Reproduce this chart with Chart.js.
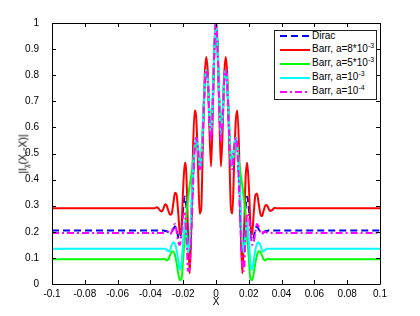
<!DOCTYPE html>
<html>
<head>
<meta charset="utf-8">
<script src="https://cdn.jsdelivr.net/npm/chart.js@4.4.1/dist/chart.umd.min.js"></script>
<style>
  html, body { margin: 0; padding: 0; background: #fff; }
  #wrap { position: relative; width: 420px; height: 316px; font-family: "Liberation Sans", Arial, sans-serif; color: #000; }
  #chart { display: block; }
  #ylabel { position: absolute; left: 23px; top: 154px; transform: translate(-50%, -50%) rotate(-90deg); font-size: 10.5px; white-space: nowrap; }
  #ylabel sub { font-size: 7px; vertical-align: -2px; }
  #xlabel { position: absolute; left: 216px; top: 301px; transform: translate(-50%, -50%); font-size: 10px; }
  #legend { position: absolute; left: 274px; top: 30px; width: 103px; height: 70px; border: 1px solid #222; background: #fff; box-sizing: border-box; font-size: 10px; }
  #legend svg { position: absolute; left: 5px; width: 30px; height: 6px; }
  #legend span { position: absolute; left: 37px; white-space: nowrap; line-height: 10px; }
  #legend sup { font-size: 7px; vertical-align: 4px; line-height: 0; }
</style>
</head>
<body>
<div id="wrap">
  <canvas id="chart" width="420" height="316"></canvas>
  <div id="ylabel">|I<sub>χ</sub>(X,-X)|</div>
  <div id="xlabel">X</div>
  <div id="legend">
    <svg style="top:2px"><line x1="0" y1="3" x2="30" y2="3" stroke="#0000ff" stroke-width="2" stroke-dasharray="7,4"/></svg>
    <span style="top:0px">Dirac</span>
    <svg style="top:16px"><line x1="0" y1="3" x2="30" y2="3" stroke="#ff0000" stroke-width="2"/></svg>
    <span style="top:13px">Barr, a=8*10<sup>-3</sup></span>
    <svg style="top:30px"><line x1="0" y1="3" x2="30" y2="3" stroke="#00ff00" stroke-width="2"/></svg>
    <span style="top:27px">Barr, a=5*10<sup>-3</sup></span>
    <svg style="top:44px"><line x1="0" y1="3" x2="30" y2="3" stroke="#00ffff" stroke-width="2"/></svg>
    <span style="top:41px">Barr, a=10<sup>-3</sup></span>
    <svg style="top:58px"><line x1="0" y1="3" x2="30" y2="3" stroke="#ff00ff" stroke-width="2" stroke-dasharray="7,3,2,3"/></svg>
    <span style="top:55px">Barr, a=10<sup>-4</sup></span>
  </div>
</div>
<script>
// x positions (X) shared by all curves
const xs = [-0.1,
  -0.040, -0.039, -0.038, -0.037, -0.036, -0.035, -0.034, -0.033, -0.032, -0.031,
  -0.030, -0.029, -0.028, -0.027, -0.026, -0.025, -0.024, -0.023, -0.022, -0.021,
  -0.020, -0.019, -0.018, -0.017, -0.016, -0.015, -0.014, -0.013, -0.012, -0.011,
  -0.010, -0.009, -0.008, -0.007, -0.006, -0.005, -0.004, -0.003, -0.002, -0.001,
  0.000,
  0.001, 0.002, 0.003, 0.004, 0.005, 0.006, 0.007, 0.008, 0.009, 0.010,
  0.011, 0.012, 0.013, 0.014, 0.015, 0.016, 0.017, 0.018, 0.019, 0.020,
  0.021, 0.022, 0.023, 0.024, 0.025, 0.026, 0.027, 0.028, 0.029, 0.030,
  0.031, 0.032, 0.033, 0.034, 0.035, 0.036, 0.037, 0.038, 0.039, 0.040,
  0.1];

const dirac = [0.205,
  0.205, 0.205, 0.205, 0.205, 0.205, 0.205, 0.205, 0.205, 0.205, 0.203,
  0.202, 0.198, 0.195, 0.20, 0.21, 0.22, 0.21, 0.18, 0.175, 0.22,
  0.29, 0.335, 0.29, 0.16, 0.12, 0.24, 0.40, 0.52, 0.56, 0.52,
  0.45, 0.46, 0.58, 0.74, 0.82, 0.78, 0.64, 0.56, 0.69, 0.90,
  1.00,
  0.90, 0.69, 0.56, 0.64, 0.78, 0.82, 0.74, 0.58, 0.46, 0.45,
  0.52, 0.56, 0.52, 0.40, 0.24, 0.12, 0.16, 0.29, 0.335, 0.29,
  0.22, 0.175, 0.18, 0.21, 0.22, 0.21, 0.20, 0.195, 0.198, 0.202,
  0.203, 0.205, 0.205, 0.205, 0.205, 0.205, 0.205, 0.205, 0.205, 0.205,
  0.205];

const barr8e3 = [0.29,
  0.29, 0.29, 0.29, 0.291, 0.294, 0.289, 0.281, 0.278, 0.29, 0.306,
  0.30, 0.28, 0.265, 0.27, 0.31, 0.35, 0.34, 0.27, 0.19, 0.22,
  0.37, 0.465, 0.41, 0.18, 0.04, 0.24, 0.52, 0.665, 0.63, 0.46,
  0.27, 0.29, 0.54, 0.78, 0.87, 0.81, 0.59, 0.45, 0.65, 0.90,
  1.00,
  0.90, 0.66, 0.45, 0.58, 0.80, 0.87, 0.78, 0.55, 0.30, 0.27,
  0.45, 0.62, 0.665, 0.53, 0.25, 0.04, 0.17, 0.40, 0.465, 0.38,
  0.23, 0.19, 0.27, 0.34, 0.347, 0.31, 0.27, 0.26, 0.28, 0.30,
  0.303, 0.29, 0.28, 0.282, 0.288, 0.292, 0.29, 0.29, 0.29, 0.29,
  0.29];

const barr5e3 = [0.095,
  0.095, 0.095, 0.095, 0.095, 0.095, 0.095, 0.095, 0.095, 0.097, 0.095,
  0.09, 0.095, 0.11, 0.125, 0.125, 0.11, 0.08, 0.04, 0.015, 0.02,
  0.10, 0.18, 0.27, 0.33, 0.38, 0.42, 0.47, 0.52, 0.54, 0.51,
  0.47, 0.50, 0.62, 0.76, 0.82, 0.78, 0.66, 0.60, 0.72, 0.91,
  1.00,
  0.91, 0.72, 0.60, 0.66, 0.78, 0.82, 0.76, 0.62, 0.50, 0.47,
  0.51, 0.54, 0.52, 0.47, 0.42, 0.38, 0.33, 0.27, 0.18, 0.10,
  0.02, 0.015, 0.04, 0.08, 0.11, 0.125, 0.125, 0.11, 0.095, 0.09,
  0.095, 0.097, 0.095, 0.095, 0.095, 0.095, 0.095, 0.095, 0.095, 0.095,
  0.095];

const barr1e3 = [0.135,
  0.135, 0.135, 0.135, 0.135, 0.135, 0.135, 0.135, 0.135, 0.135, 0.136,
  0.13, 0.125, 0.13, 0.15, 0.16, 0.155, 0.13, 0.09, 0.055, 0.08,
  0.17, 0.24, 0.19, 0.12, 0.17, 0.30, 0.43, 0.53, 0.56, 0.52,
  0.45, 0.47, 0.60, 0.75, 0.82, 0.78, 0.64, 0.57, 0.69, 0.90,
  1.00,
  0.90, 0.69, 0.57, 0.64, 0.78, 0.82, 0.75, 0.60, 0.47, 0.45,
  0.52, 0.56, 0.53, 0.43, 0.30, 0.17, 0.12, 0.19, 0.24, 0.17,
  0.08, 0.055, 0.09, 0.13, 0.155, 0.16, 0.15, 0.13, 0.125, 0.13,
  0.136, 0.135, 0.135, 0.135, 0.135, 0.135, 0.135, 0.135, 0.135, 0.135,
  0.135];

const barr1e4 = [0.195,
  0.195, 0.195, 0.195, 0.195, 0.195, 0.195, 0.195, 0.195, 0.195, 0.197,
  0.20, 0.20, 0.19, 0.20, 0.22, 0.23, 0.20, 0.16, 0.15, 0.20,
  0.26, 0.27, 0.18, 0.05, 0.07, 0.20, 0.38, 0.52, 0.56, 0.52,
  0.44, 0.45, 0.58, 0.74, 0.82, 0.78, 0.63, 0.55, 0.68, 0.90,
  1.00,
  0.90, 0.68, 0.55, 0.63, 0.78, 0.82, 0.74, 0.58, 0.45, 0.44,
  0.52, 0.56, 0.52, 0.38, 0.20, 0.07, 0.05, 0.18, 0.27, 0.26,
  0.20, 0.15, 0.16, 0.20, 0.23, 0.22, 0.20, 0.19, 0.20, 0.20,
  0.197, 0.195, 0.195, 0.195, 0.195, 0.195, 0.195, 0.195, 0.195, 0.195,
  0.195];

const xTicks = [-0.1, -0.08, -0.06, -0.04, -0.02, 0, 0.02, 0.04, 0.06, 0.08, 0.1];
const yTicks = [0, 0.1, 0.2, 0.3, 0.4, 0.5, 0.6, 0.7, 0.8, 0.9, 1];

function toPoints(ys) {
  return xs.map((x, i) => ({ x: x, y: ys[i] }));
}

function fmt(v) {
  return String(Number(v.toFixed(2)));
}

// box around the plot with ticks pointing inwards, matlab style
const boxTicks = {
  id: 'boxTicks',
  afterDatasetsDraw(chart) {
    const { ctx, chartArea: a, scales } = chart;
    ctx.save();
    ctx.strokeStyle = '#000';
    ctx.lineWidth = 1;
    ctx.beginPath();
    ctx.rect(a.left + 0.5, a.top + 0.5, a.right - a.left, a.bottom - a.top);
    scales.x.ticks.forEach(t => {
      const px = Math.round(scales.x.getPixelForValue(t.value)) + 0.5;
      ctx.moveTo(px, a.bottom); ctx.lineTo(px, a.bottom - 4);
      ctx.moveTo(px, a.top); ctx.lineTo(px, a.top + 4);
    });
    scales.y.ticks.forEach(t => {
      const py = Math.round(scales.y.getPixelForValue(t.value)) + 0.5;
      ctx.moveTo(a.left, py); ctx.lineTo(a.left + 4, py);
      ctx.moveTo(a.right, py); ctx.lineTo(a.right - 4, py);
    });
    ctx.stroke();
    ctx.restore();
  }
};

const font = { family: '"Liberation Sans", Arial, sans-serif', size: 10 };

new Chart(document.getElementById('chart'), {
  type: 'line',
  data: {
    datasets: [
      { label: 'Dirac', data: toPoints(dirac), borderColor: '#0000ff', borderDash: [7, 4], order: 5 },
      { label: 'Barr, a=8*10^-3', data: toPoints(barr8e3), borderColor: '#ff0000', order: 4 },
      { label: 'Barr, a=5*10^-3', data: toPoints(barr5e3), borderColor: '#00ff00', order: 3 },
      { label: 'Barr, a=10^-3', data: toPoints(barr1e3), borderColor: '#00ffff', order: 2 },
      { label: 'Barr, a=10^-4', data: toPoints(barr1e4), borderColor: '#ff00ff', borderDash: [7, 3, 2, 3], order: 1 }
    ]
  },
  options: {
    responsive: false,
    animation: false,
    devicePixelRatio: 1,
    layout: { padding: { top: 23, right: 40, left: 0, bottom: 0 } },
    elements: {
      point: { radius: 0 },
      line: { borderWidth: 2, cubicInterpolationMode: 'monotone', fill: false }
    },
    plugins: { legend: { display: false }, tooltip: { enabled: false } },
    scales: {
      x: {
        type: 'linear', min: -0.1, max: 0.1,
        afterBuildTicks: s => { s.ticks = xTicks.map(v => ({ value: v })); },
        afterFit: s => { s.height = 32; },
        grid: { display: false },
        border: { display: false },
        ticks: { color: '#000', font: font, padding: -4, maxRotation: 0, autoSkip: false, callback: v => fmt(v) }
      },
      y: {
        type: 'linear', min: 0, max: 1,
        afterBuildTicks: s => { s.ticks = yTicks.map(v => ({ value: v })); },
        afterFit: s => { s.width = 52; },
        grid: { display: false },
        border: { display: false },
        ticks: { color: '#000', font: font, padding: 5, autoSkip: false, callback: v => fmt(v) }
      }
    }
  },
  plugins: [boxTicks]
});
</script>
</body>
</html>
